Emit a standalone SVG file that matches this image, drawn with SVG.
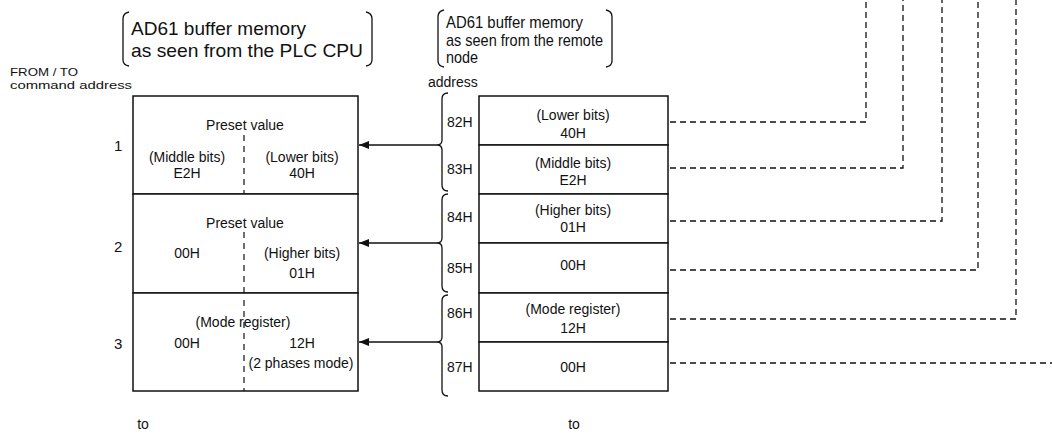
<svg xmlns="http://www.w3.org/2000/svg" width="1052" height="434" viewBox="0 0 1052 434">
<defs>
<style>
text{font-family:"Liberation Sans",Arial,sans-serif;fill:#111}
.t{font-size:14px;text-anchor:middle}
.a{font-size:14px}
.s{font-size:11.5px}
.ttl{font-size:19px}
.ttl2{font-size:17px}
.box{fill:#fff;stroke:#111;stroke-width:1.5}
.dv{stroke:#111;stroke-width:1.2;stroke-dasharray:6 5;fill:none}
.br{fill:none;stroke:#111;stroke-width:1.3}
.con{fill:none;stroke:#111;stroke-width:1.3}
.dash{fill:none;stroke:#111;stroke-width:1.3;stroke-dasharray:6 4}
</style>
<marker id="ah" viewBox="0 0 10 8" refX="10" refY="4" markerWidth="10" markerHeight="8" markerUnits="userSpaceOnUse" orient="auto">
<path d="M0,0 L10,4 L0,8 Z" fill="#111"/>
</marker>
</defs>
<rect width="1052" height="434" fill="#fff"/>

<g id="title-left">
<path class="br" d="M129,12 Q123,13 123,19 L123,60 Q123,65 129,66"/>
<path class="br" d="M366,12 Q372,13 372,19 L372,60 Q372,65 366,66"/>
<text class="ttl" x="131" y="35" textLength="175" lengthAdjust="spacingAndGlyphs">AD61 buffer memory</text>
<text class="ttl" x="131" y="57" textLength="232" lengthAdjust="spacingAndGlyphs">as seen from the PLC CPU</text>
</g>

<g id="title-right">
<path class="br" d="M444,10 Q438,11 438,17 L438,61 Q438,66 444,67"/>
<path class="br" d="M606,10 Q612,11 612,17 L612,61 Q612,66 606,67"/>
<text class="ttl2" x="446" y="28" textLength="137" lengthAdjust="spacingAndGlyphs">AD61 buffer memory</text>
<text class="ttl2" x="446" y="46" textLength="157" lengthAdjust="spacingAndGlyphs">as seen from the remote</text>
<text class="ttl2" x="446" y="63" textLength="32" lengthAdjust="spacingAndGlyphs">node</text>
</g>

<g id="labels">
<text class="s" x="10" y="76" textLength="68" lengthAdjust="spacingAndGlyphs">FROM / TO</text>
<text class="s" x="10" y="89" textLength="122" lengthAdjust="spacingAndGlyphs">command address</text>
<text class="a" x="428" y="87">address</text>
<text class="a" x="114" y="151" style="font-size:15px">1</text>
<text class="a" x="114" y="252" style="font-size:15px">2</text>
<text class="a" x="114" y="349" style="font-size:15px">3</text>
<text class="t" x="143" y="429">to</text>
<text class="t" x="574" y="429">to</text>
</g>

<g id="plc-row1">
<rect class="box" x="133" y="96" width="225" height="98"/>
<line class="dv" x1="244" y1="135" x2="244" y2="194"/>
<text class="t" x="245" y="130">Preset value</text>
<text class="t" x="187" y="162">(Middle bits)</text>
<text class="t" x="187" y="178">E2H</text>
<text class="t" x="302" y="162">(Lower bits)</text>
<text class="t" x="302" y="178">40H</text>
</g>
<g id="plc-row2">
<rect class="box" x="133" y="194" width="225" height="99"/>
<line class="dv" x1="244" y1="232" x2="244" y2="293"/>
<text class="t" x="245" y="228">Preset value</text>
<text class="t" x="187" y="258">00H</text>
<text class="t" x="302" y="258">(Higher bits)</text>
<text class="t" x="302" y="278">01H</text>
</g>
<g id="plc-row3">
<rect class="box" x="133" y="293" width="225" height="98"/>
<line class="dv" x1="244" y1="300" x2="244" y2="391"/>
<text class="t" x="243" y="327">(Mode register)</text>
<text class="t" x="187" y="348">00H</text>
<text class="t" x="302" y="348">12H</text>
<text class="t" x="301" y="368">(2 phases mode)</text>
</g>

<g id="remote-82H">
<rect class="box" x="479" y="96" width="189" height="49"/>
<text class="a" x="447" y="127">82H</text>
<text class="t" x="573" y="120">(Lower bits)</text>
<text class="t" x="573" y="138">40H</text>
</g>
<g id="remote-83H">
<rect class="box" x="479" y="145" width="189" height="49"/>
<text class="a" x="447" y="174">83H</text>
<text class="t" x="573" y="168">(Middle bits)</text>
<text class="t" x="573" y="185">E2H</text>
</g>
<g id="remote-84H">
<rect class="box" x="479" y="194" width="189" height="49"/>
<text class="a" x="447" y="222">84H</text>
<text class="t" x="573" y="215">(Higher bits)</text>
<text class="t" x="573" y="232">01H</text>
</g>
<g id="remote-85H">
<rect class="box" x="479" y="243" width="189" height="50"/>
<text class="a" x="447" y="273">85H</text>
<text class="t" x="573" y="270">00H</text>
</g>
<g id="remote-86H">
<rect class="box" x="479" y="293" width="189" height="49"/>
<text class="a" x="447" y="318">86H</text>
<text class="t" x="573" y="314">(Mode register)</text>
<text class="t" x="573" y="333">12H</text>
</g>
<g id="remote-87H">
<rect class="box" x="479" y="342" width="189" height="49"/>
<text class="a" x="447" y="372">87H</text>
<text class="t" x="573" y="372">00H</text>
</g>

<g id="connectors">
<path class="br" d="M448,93 Q442,93 442,99 L442,140 Q442,145 437,145 Q442,145 442,150 L442,185 Q442,191 448,191"/>
<path class="br" d="M448,194 Q442,194 442,200 L442,238 Q442,243 437,243 Q442,243 442,248 L442,286 Q442,292 448,292"/>
<path class="br" d="M448,295 Q442,295 442,301 L442,337 Q442,342 437,342 Q442,342 442,347 L442,390 Q442,396 448,396"/>
<line class="con" x1="437" y1="145" x2="359" y2="145" marker-end="url(#ah)"/>
<line class="con" x1="437" y1="243" x2="359" y2="243" marker-end="url(#ah)"/>
<line class="con" x1="437" y1="342" x2="359" y2="342" marker-end="url(#ah)"/>
<path class="dash" d="M670,122 H866 V0"/>
<path class="dash" d="M670,168 H903 V0"/>
<path class="dash" d="M670,221 H942 V0"/>
<path class="dash" d="M670,270 H978 V0"/>
<path class="dash" d="M670,319 H1016 V0"/>
<path class="dash" d="M670,363 H1052"/>
</g>
</svg>
